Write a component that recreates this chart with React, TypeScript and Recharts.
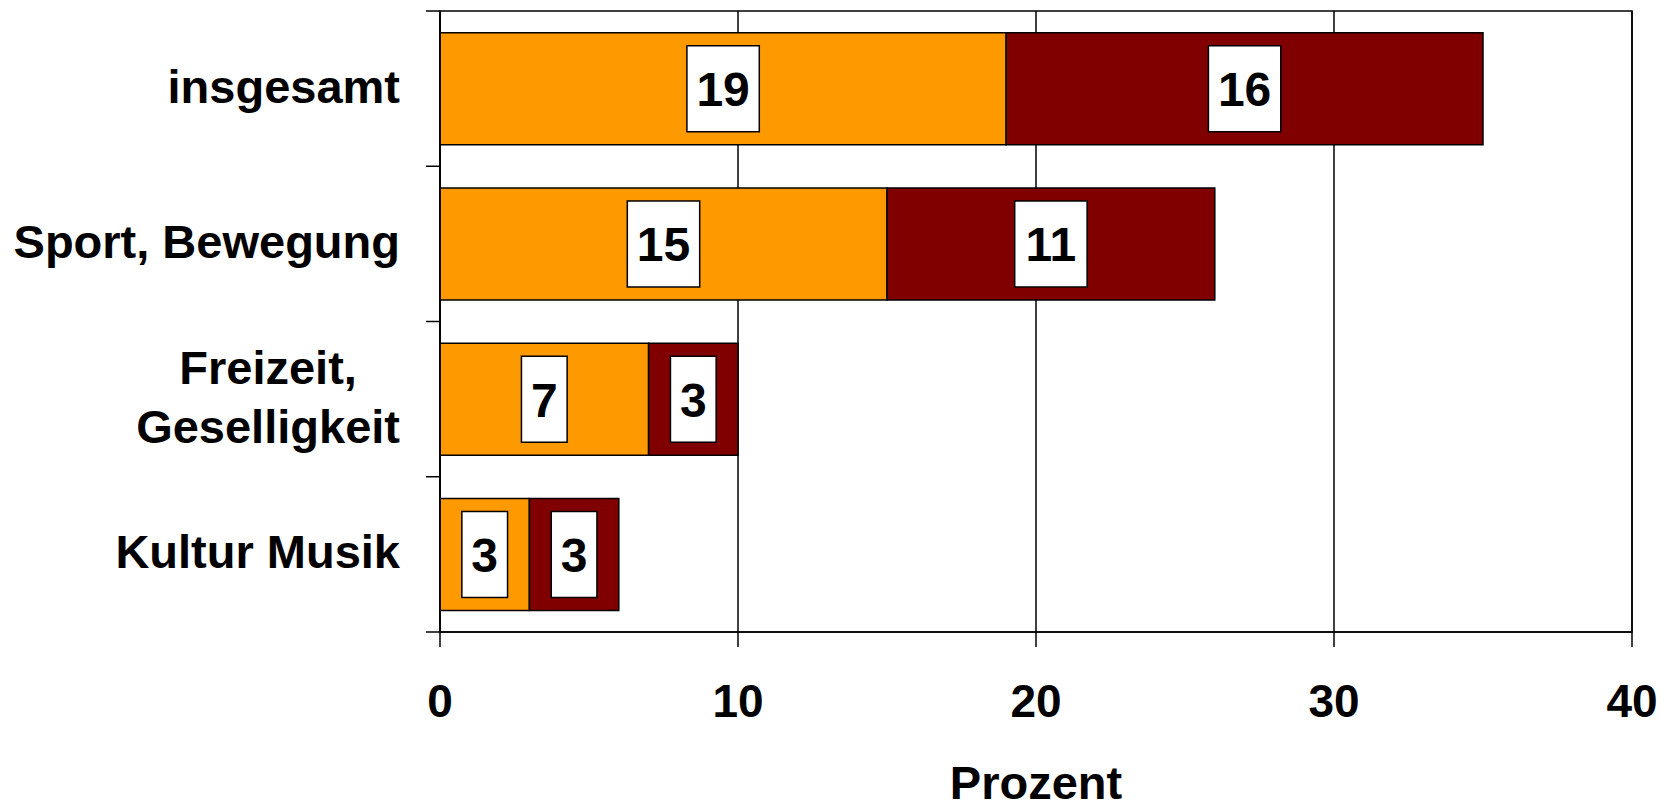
import { BarChart, Bar, XAxis, YAxis, CartesianGrid, ReferenceArea, LabelList } from 'recharts'

const categories = ['insgesamt', 'Sport, Bewegung', 'Freizeit, Geselligkeit', 'Kultur Musik']
const categoryLines = [['insgesamt'], ['Sport, Bewegung'], ['Freizeit,', 'Geselligkeit'], ['Kultur Musik']]
const teil1 = [19, 15, 7, 3]
const teil2 = [16, 11, 3, 3]
const xTicks = [0, 10, 20, 30, 40]

const data = categories.map((name, i) => ({ name, teil1: teil1[i], teil2: teil2[i] }))

const FONT = '"Liberation Sans", Arial, sans-serif'
const CAT_FS = 47

let ctx: CanvasRenderingContext2D | null = null
const measure = (t: string) => {
	if (!ctx) ctx = document.createElement('canvas').getContext('2d')
	if (!ctx) return t.length * CAT_FS * 0.6
	ctx.font = `bold ${CAT_FS}px ${FONT}`
	return ctx.measureText(t).width
}

const CategoryTick = (props: any) => {
	const { x, y, payload, index, visibleTicksCount } = props
	const lines: string[] = categoryLines[index] || [payload.value]
	const half = payload.offset ?? 77.6
	const lh = 59
	const maxW = Math.max(...lines.map(measure))
	const multi = lines.length > 1
	const firstBase = y + 0.3 * CAT_FS - ((lines.length - 1) * lh) / 2
	const tx = multi ? x - maxW / 2 : x
	return (
		<g>
			<line x1={x + 26} x2={x + 40} y1={y - half} y2={y - half} stroke="#000" strokeWidth={1.5} />
			{index === visibleTicksCount - 1 && (
				<line x1={x + 26} x2={x + 40} y1={y + half} y2={y + half} stroke="#000" strokeWidth={1.5} />
			)}
			<text
				x={tx}
				y={firstBase}
				textAnchor={multi ? 'middle' : 'end'}
				fontFamily={FONT}
				fontWeight="bold"
				fontSize={CAT_FS}
				fill="#000"
			>
				{lines.map((l, i) => (
					<tspan key={i} x={tx} dy={i === 0 ? 0 : lh}>
						{l}
					</tspan>
				))}
			</text>
		</g>
	)
}

const ValueBox = (props: any) => {
	const { x, y, width, height, value } = props
	const fs = 48
	const tw = String(value).length * 0.556 * fs
	const bw = tw + 19
	const bh = 86
	const cx = x + width / 2
	const cy = y + height / 2
	return (
		<g>
			<rect x={cx - bw / 2} y={cy - bh / 2} width={bw} height={bh} fill="#fff" stroke="#000" strokeWidth={1.5} />
			<text x={cx} y={cy + 0.36 * fs} textAnchor="middle" fontFamily={FONT} fontWeight="bold" fontSize={fs} fill="#000">
				{value}
			</text>
		</g>
	)
}

const App = () => {
	return (
		<div style={{ position: 'absolute', left: 0, top: 0, background: '#fff' }}>
			<BarChart
				width={1661}
				height={802}
				data={data}
				layout="vertical"
				margin={{ top: 11, right: 29, bottom: 0, left: 0 }}
				barCategoryGap="14%"
			>
				<CartesianGrid horizontal={false} stroke="#000" strokeWidth={1.5} />
				<XAxis
					type="number"
					domain={[0, 40]}
					ticks={xTicks}
					height={170}
					tickSize={15}
					tickMargin={37}
					axisLine={{ stroke: '#000', strokeWidth: 1.5 }}
					tickLine={{ stroke: '#000', strokeWidth: 1.5 }}
					tick={{ fontSize: 46, fontWeight: 'bold', fill: '#000', fontFamily: FONT }}
					label={{ value: 'Prozent', position: 'insideBottom', offset: 3, fontSize: 47, fontWeight: 'bold', fill: '#000', fontFamily: FONT }}
				/>
				<YAxis
					type="category"
					dataKey="name"
					width={440}
					tickSize={14}
					tickMargin={26}
					tickLine={false}
					axisLine={{ stroke: '#000', strokeWidth: 1.5 }}
					tick={<CategoryTick />}
					interval={0}
				/>
				<ReferenceArea x1={0} x2={40} fill="none" stroke="#000" strokeWidth={1.5} fillOpacity={0} />
				<Bar dataKey="teil1" stackId="a" fill="#FF9900" stroke="#000" strokeWidth={1.5} isAnimationActive={false}>
					<LabelList dataKey="teil1" content={<ValueBox />} />
				</Bar>
				<Bar dataKey="teil2" stackId="a" fill="#800000" stroke="#000" strokeWidth={1.5} isAnimationActive={false}>
					<LabelList dataKey="teil2" content={<ValueBox />} />
				</Bar>
			</BarChart>
		</div>
	)
}

export default App
